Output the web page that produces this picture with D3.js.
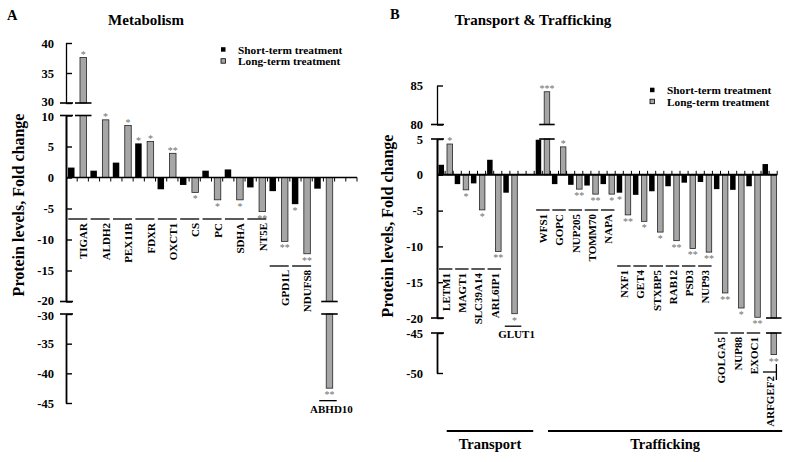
<!DOCTYPE html>
<html><head><meta charset="utf-8">
<script src="https://cdn.jsdelivr.net/npm/d3@7"></script>
<style>body{margin:0;background:#fff;} text{font-family:"Liberation Serif","Times New Roman",serif;}</style>
</head><body><svg id="c" width="790" height="462"></svg>
<script>
// ---------- DATA ----------
const catsA = ["TIGAR","ALDH2","PEX11B","FDXR","OXCT1","CS","PC","SDHA","NT5E","GPD1L","NDUFS8","ABHD10"];
const shortA = [1.6,1.1,2.4,5.5,-1.9,-1.2,1.1,1.3,-1.6,-2.2,-4.3,-1.8];
const longA  = [37.6,9.3,8.4,5.8,3.9,-2.4,-3.6,-3.6,-5.5,-10.3,-12.3,-42.5];
const sigShortA = ["","","","*","","","","","","","*",""];
const sigLongA  = ["*","*","*","*","**","*","*","*","**","**","**","**"];
const ticksATop = [30,35,40];
const ticksAMid = [-20,-15,-10,-5,0,5,10];
const ticksABot = [-45,-40,-35,-30];

const catsB = ["LETM1","MAGT1","SLC39A14","ARL6IP1","GLUT1","","WFS1","GOPC","NUP205","TOMM70","NAPA","NXF1","GET4","STXBP5","RAB12","PSD3","NUP93","GOLGA5","NUP88","EXOC1","ARFGEF2"];
const shortB = [1.4,-1.3,-1.2,2.1,-2.5,null,4.9,-1.3,-1.4,-1.5,-1.3,-2.5,-2.8,-2.3,-1.6,-1.1,-1.0,-2.0,-2.1,-1.6,1.5];
const longB  = [4.3,-2.1,-4.9,-10.7,-19.4,null,84.2,3.9,-2.0,-2.7,-2.7,-5.6,-6.5,-8.0,-9.2,-10.3,-10.8,-16.5,-18.6,-19.9,-47.7];
const sigShortB = ["","","","","","","","","","","","*","","","","","","","","",""];
const sigLongB  = ["*","*","*","**","*","","***","*","**","**","*","**","*","*","**","**","**","**","*","**","**"];
const ticksBTop = [80,85];
const ticksBMid = [-20,-15,-10,-5,0,5];
const ticksBBot = [-50,-45];
const groupsB = [{name:"Transport", from:0, to:5}, {name:"Trafficking", from:6, to:20}];
const legendLabels = ["Short-term treatment","Long-term treatment"];

// ---------- LAYOUT ----------
const GRAY = "#a6a6a6";
const svg = d3.select("#c");

// label layout (pixel rows of the label lines), 'h' = horizontal label under bar
const labRowA = [219,219,219,219,219,219,219,219,219,266,266,"h"];
const labRowB = [269,269,269,269,"h",null,210,210,210,210,210,266,266,266,266,266,266,333,333,333,372];

function panel(cfg){
  const g = svg.append("g");
  const {x, top, mid, bot, axisX} = cfg;
  const w = x.bandwidth();
  const y0 = mid(0);

  function bar(i, v, off, fill, stroke, sig){
    if (v == null) return;
    const bx = x(i) + off*w, bw = cfg.bw*w;
    const [mlo, mhi] = mid.domain();
    let yEnd;
    const rect = (ya, yb) => g.append("rect").attr("x", bx).attr("y", Math.min(ya,yb))
        .attr("width", bw).attr("height", Math.abs(yb-ya))
        .attr("fill", fill).attr("stroke", stroke).attr("stroke-width", stroke==="none"?0:0.8);
    const brk = (yy) => g.append("line").attr("x1", bx-5).attr("x2", bx+bw+5).attr("y1", yy).attr("y2", yy)
        .attr("stroke","#000").attr("stroke-width",1.6);
    if (v >= 0) {
      rect(mid(Math.min(v, mhi)), y0);
      yEnd = mid(Math.min(v, mhi));
      if (v > mhi) { rect(top(v), top(top.domain()[0])); yEnd = top(v); brk(mid(mhi)); brk(top(top.domain()[0])); }
    } else {
      rect(y0, mid(Math.max(v, mlo)));
      yEnd = mid(Math.max(v, mlo));
      if (v < mlo) { rect(bot(bot.domain()[1]), bot(v)); yEnd = bot(v); brk(mid(mlo)); brk(bot(bot.domain()[1])); }
    }
    if (sig) {
      const by = v >= 0 ? yEnd - 4.5 + 4.9 : yEnd + 5 + 4.9;
      g.append("text").attr("x", bx + bw/2).attr("y", by).attr("text-anchor","middle")
        .attr("font-size", 10).attr("fill", "#707070").text(sig);
    }
    return {bx, bw, yEnd};
  }

  const ends = [];
  cfg.cats.forEach((c, i) => {
    bar(i, cfg.short[i], cfg.offS, "#000", "none", cfg.sigS[i]);
    ends[i] = bar(i, cfg.long[i], cfg.offL, GRAY, "#222", cfg.sigL[i]);
  });

  const xEnd = x.range()[1];
  g.append("line").attr("x1", axisX).attr("x2", xEnd).attr("y1", y0).attr("y2", y0)
    .attr("stroke","#000").attr("stroke-width", cfg.zeroW);
  const nT = x.domain().length*2;
  for (let k=1; k<=nT; k++){
    const tx = x.range()[0] + k*w/2;
    g.append("line").attr("x1", tx).attr("x2", tx).attr("y1", y0).attr("y2", y0 + cfg.tickDir*4)
      .attr("stroke","#000").attr("stroke-width",1);
  }

  const mkAxis = (sc, vals, sw) => {
    const a = g.append("g").attr("transform", `translate(${axisX},0)`)
      .call(d3.axisLeft(sc).tickValues(vals).tickSizeInner(-6).tickSizeOuter(0)
        .tickPadding(cfg.pad).tickFormat(d => String(d)));
    a.select(".domain").attr("stroke-width", sw);
    a.selectAll(".tick line").attr("stroke-width", 1.4);
    a.selectAll("text").attr("font-size", 12.5).attr("font-weight","bold")
      .attr("font-family", '"Liberation Serif", serif').attr("fill","#000")
      .attr("y", d => (cfg.nudge && cfg.nudge[d]) || 0);
  };
  mkAxis(top, cfg.tTop, 1.3);
  mkAxis(mid, cfg.tMid, 2);
  mkAxis(bot, cfg.tBot, 1.8);
  [top(top.domain()[0]), mid(mid.domain()[1]), mid(mid.domain()[0]), bot(bot.domain()[1])].forEach(yy => {
    g.append("line").attr("x1", axisX-6).attr("x2", axisX+7).attr("y1", yy).attr("y2", yy)
      .attr("stroke","#000").attr("stroke-width",1.6);
  });

  cfg.cats.forEach((c, i) => {
    const row = cfg.rows[i];
    if (row == null || !c) return;
    if (row === "h") {
      const e = ends[i];
      g.append("line").attr("x1", e.bx-7).attr("x2", e.bx+e.bw+4).attr("y1", e.yEnd+12.5).attr("y2", e.yEnd+12.5)
        .attr("stroke","#000").attr("stroke-width",1.3);
      g.append("text").attr("x", e.bx+e.bw/2+2).attr("y", e.yEnd+24.5).attr("text-anchor","middle")
        .attr("font-size", cfg.labFs).attr("font-weight","bold").text(c);
    } else {
      g.append("line").attr("x1", x(i)+cfg.l0*w).attr("x2", x(i)+cfg.l1*w).attr("y1", row).attr("y2", row)
        .attr("stroke","#000").attr("stroke-width",1.3);
      g.append("text").attr("transform", `translate(${x(i)+cfg.lx*w},${row+4}) rotate(-90)`)
        .attr("text-anchor","end").attr("dominant-baseline","central")
        .attr("font-size", cfg.labFs).attr("font-weight","bold").text(c);
    }
  });

  g.append("text").attr("x", cfg.letter[0]).attr("y", cfg.letter[1]).attr("font-size",14.5)
    .attr("font-weight","bold").text(cfg.letter[2]);
  g.append("text").attr("x", cfg.title[0]).attr("y", 25).attr("text-anchor","middle")
    .attr("font-size",15).attr("font-weight","bold").text(cfg.title[1]);
  g.append("text").attr("transform", `translate(${cfg.ylab[0]},${cfg.ylab[1]}) rotate(-90)`)
    .attr("text-anchor","middle").attr("dominant-baseline","central")
    .attr("font-size",16).attr("font-weight","bold").text("Protein levels, Fold change");
  legendLabels.forEach((t, k) => {
    const ly = cfg.leg[1] + k*11.5;
    g.append("rect").attr("x", cfg.leg[0]).attr("y", ly-2.3).attr("width",4.5).attr("height",4.5)
      .attr("fill", k ? GRAY : "#000").attr("stroke", "#000").attr("stroke-width", k?0.8:0);
    g.append("text").attr("x", cfg.leg[0]+17).attr("y", ly+4).attr("font-size",11.3)
      .attr("font-weight","bold").text(t);
  });
  return g;
}

// Panel A
const xA = d3.scaleBand().domain(d3.range(13)).range([66, 357]);
panel({
  x: xA, axisX: 66,
  top: d3.scaleLinear().domain([30,40]).range([103,43]),
  mid: d3.scaleLinear().domain([-20,10]).range([301.5,115.5]),
  bot: d3.scaleLinear().domain([-45,-30]).range([403,314]),
  tTop: ticksATop, tMid: ticksAMid, tBot: ticksABot, pad: 12,
  nudge: {"30": -1.2, "10": 0.6, "-20": -0.6, "-30": 1.2},
  cats: catsA, short: shortA, long: longA, sigS: sigShortA, sigL: sigLongA,
  offS: 0.09, offL: 0.625, bw: 0.29, zeroW: 1.6, tickDir: 1,
  rows: labRowA, l0: 0.1, l1: 0.95, lx: 0.78, labFs: 11,
  letter: [7, 19.5, "A"], title: [146, "Metabolism"], ylab: [18, 205], leg: [221, 49.5]
});

// Panel B
const xB = d3.scaleBand().domain(d3.range(21)).range([437, 777.2]);
const gB = panel({
  x: xB, axisX: 437,
  top: d3.scaleLinear().domain([80,85]).range([124.5,85.5]),
  mid: d3.scaleLinear().domain([-20,5]).range([318,139]),
  bot: d3.scaleLinear().domain([-50,-45]).range([373,333]),
  tTop: ticksBTop, tMid: ticksBMid, tBot: ticksBBot, pad: 14,
  cats: catsB, short: shortB, long: longB, sigS: sigShortB, sigL: sigLongB,
  offS: 0.093, offL: 0.617, bw: 0.34, zeroW: 2, tickDir: -1,
  rows: labRowB, l0: 0.12, l1: 0.95, lx: 0.55, labFs: 11,
  letter: [390, 19, "B"], title: [533, "Transport & Trafficking"], ylab: [387, 226], leg: [650, 90]
});

{
  const i = 20, w = xB.bandwidth();
  gB.append("line").attr("x1", xB(i)+0.95*w).attr("x2", xB(i)+0.95*w).attr("y1", 364).attr("y2", 380)
    .attr("stroke","#000").attr("stroke-width",1.3);
}

{
  const w = xB.bandwidth();
  groupsB.forEach((gr, k) => {
    const x1 = xB(gr.from) + (k ? 0.85 : 0.6)*w;
    const x2 = xB(gr.to) + w + (k ? 5 : -1);
    gB.append("line").attr("x1", x1).attr("x2", x2).attr("y1", 431).attr("y2", 431)
      .attr("stroke","#000").attr("stroke-width",2);
    gB.append("text").attr("x", (x1+x2)/2).attr("y", 449).attr("text-anchor","middle")
      .attr("font-size",14.5).attr("font-weight","bold").text(gr.name);
  });
}
</script></body></html>
